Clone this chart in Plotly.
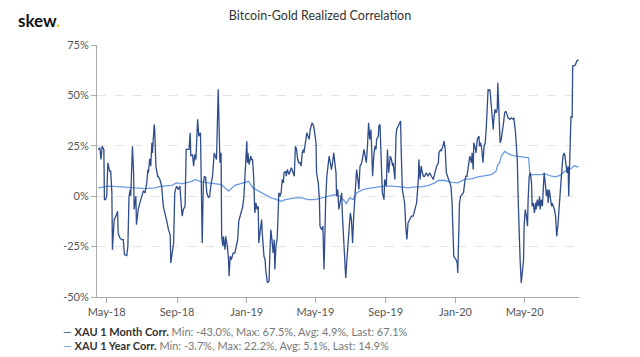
import pandas as pd
import plotly.graph_objects as go

START = "2018-05-01"

# XAU 1 Month Corr. (days offset from 2018-05-01, value in %)
month_days = [-15, -12, -10, -8, -5, -4, -2, 0, 2, 5, 7, 9, 10, 13, 16, 19, 20, 23, 26, 29, 31, 35, 37, 39, 41, 42,
              45, 47, 48, 51, 52, 55, 58, 61, 64, 67, 70, 72, 73, 75, 76, 77, 79, 80, 83, 84, 86, 89, 90, 93, 96, 99,
              102, 105, 108, 111, 112, 115, 117, 119, 122, 125, 128, 130, 132, 134, 137, 139, 141, 144, 146, 147, 150,
              152, 154, 156, 159, 161, 164, 165, 166, 167, 169, 171, 173, 175, 178, 180, 182, 185, 188, 190, 192,
              195, 197, 198, 200, 201, 203, 204, 207, 208, 211, 213, 214, 216, 218, 221, 224, 226, 229, 231, 233, 236,
              238, 240, 243, 245, 246, 247, 249, 252, 253, 255, 257, 258, 259, 261, 263, 265, 266, 268, 271, 272, 275,
              277, 278, 281, 284, 285, 287, 289, 291, 293, 294, 296, 298, 299, 301, 303, 305, 307, 309, 310, 313, 314,
              316, 319, 321, 323, 326, 328, 330, 332, 334, 336, 338, 340, 342, 344, 345, 348, 350, 352, 354, 356, 359,
              362, 364, 366, 367, 370, 372, 373, 376, 378, 380, 381, 383, 385, 387, 389, 391, 393, 395, 397,
              401, 402, 404, 406, 408, 411, 412, 414, 416, 418, 420, 422, 424, 426, 428, 430, 432, 434, 436, 437, 440,
              441, 443, 446, 448, 450, 453, 454, 456, 458, 460, 462, 463, 465, 467, 469, 471, 472, 475, 476, 478, 479,
              480, 482, 485, 486, 489, 491, 493, 496, 498, 500, 501, 504, 506, 507, 510, 511, 514, 515, 517, 519, 521,
              523, 525, 527, 530, 533, 536, 539, 542, 545, 546, 548, 550, 552, 554, 556, 559, 562, 565, 568, 571, 574,
              577, 580, 581, 584, 585, 588, 590, 592, 594, 596, 598, 600, 602, 604, 606, 607,
              611, 613, 614, 616, 617, 619, 621, 624, 626, 628, 630, 632, 634, 635, 638, 639, 641, 642, 645, 646, 648,
              651, 652, 654, 656, 658, 660, 662, 664, 666, 667, 669, 670, 671, 674, 676, 677, 679, 681, 683, 684, 686,
              688, 690, 692, 694, 696, 698, 700, 702, 705, 708, 711, 712, 715, 716, 718, 720, 722, 723, 725, 727, 729,
              730, 732, 734, 736, 737, 739, 741, 743, 744, 746, 748, 750, 751, 753, 755, 757, 758, 760, 762, 764, 765,
              767, 769, 771, 772, 774, 776, 778, 779, 781, 783, 785, 787, 789, 791, 793, 794, 796, 798, 800, 801, 803,
              805, 807, 808, 810, 812, 814, 815, 817, 818, 820, 822, 824, 825]
month_vals = [23.2, 24.0, 18.2, 24.8, 23.2, -1.7, -1.7, 0.0, 16.6, 12.4, 12.4, 1.7, -26.5, -11.6, -9.9, -7.5, -18.2,
              -20.7, -21.5, -21.5, -29.0, -29.5, -24.8, 0.0, 3.3, 0.0,
              24.8, 11.6, -6.6, 0.0, -14.1, -6.6, -3.3, 0.0, 2.5, 1.7, 6.6, 13.2, 11.6, 18.2, 18.2, 14.9, 26.5, 21.5,
              35.6, 33.1, 14.9, 9.9, 9.9, 8.3, 5.0, -5.0,
              -8.3, -12.4, -16.6, -19.0, -33.1, -25.7, -23.2, 1.7, 5.0, 3.3, 5.0, -3.3, -9.9, -6.6, -5.0, 23.2, 23.2,
              23.2, 31.5, 19.9, 20.7,
              14.9, 20.7, 18.2, 38.1, 29.8, 31.5, 13.2, 6.6, -23.2, 6.6, 9.9, 9.1, 1.7, -0.8, 0.0, 5.0, 9.9, 21.5,
              19.9, 18.2,
              53.0, 19.9, 16.6, 21.5, -19.9, -24.8, -19.9, -26.5, -19.9, -24.8, -31.5, -39.7, -29.8, -31.5, -28.2,
              -28.2, -24.8, -21.5, -12.4, -9.9, -6.6,
              -5.0, 0.0, 14.9, 27.3, 16.6, 21.5, 15.7, 19.9, 18.2, 18.2, 9.9, -1.7, -8.3, -3.3, -6.6, -5.0, -23.2,
              -18.2, -11.6, -18.2, -29.8,
              -31.5, -36.4, -43.0, -42.2, -31.5, -16.6, -21.5, -28.2, -21.5, -36.4, -24.8, -21.5, -14.9, 1.7, 0.0, 1.7,
              8.3, 6.6, 11.6, 12.4, 9.9,
              13.2, 10.8, 13.2, 14.1, 11.6, 9.9, 24.8, 23.2, 18.2, 16.6, 16.6, 14.9, 21.5, 23.2, 21.5, 28.2, 31.5,
              29.8, 28.2, 33.1, 36.4,
              34.8, 29.8, 26.5, 11.6, 6.6, -1.7, -14.9, -16.6, -14.9, -36.4, -16.6, -1.7, 9.9, 14.9, 19.9, 16.6, 13.2,
              16.6, 21.5,
              11.6, 0.0, 3.3, -6.6, -3.3, 1.7, -8.3, -21.5, -28.2, -40.6, -31.5, -24.0, -16.6, -8.3, -11.6, -23.2, -9.9,
              1.7, 11.6, 13.2, 6.6,
              3.3, 14.9, 16.6, 19.9, 23.2, 18.2, 16.6, 24.8, 36.4, 28.2, 33.1, 26.5, 9.9, 19.9, 24.8, 23.2, 28.2,
              29.8, 34.8, 35.6, 26.5,
              8.3, 1.7, -1.7, 8.3, 5.0, 23.2, 11.6, 19.9, 18.2, 14.9, 16.6, 8.3, 29.8, 33.1, 34.8, 35.6, 37.3, 23.2,
              3.3, 0.0, -3.3,
              -14.9, -21.5, -13.2, -11.6, -9.9, -9.9, -6.6, -3.3, 8.3, 18.2, 8.3, 14.9, 11.6, 9.9, 9.9, 11.6, 9.9,
              11.6, 9.9, 8.3, 11.6,
              14.9, 16.6, 21.5, 23.2, 22.4, 24.8, 27.3, 23.2, 11.6, 9.9, 8.3, 6.6, 5.0, -3.3, -18.2, -29.8,
              -31.5, -33.1, -38.1, -18.2, -3.3, 0.0, 0.8, 1.7, 6.6, 9.9, 9.9, 13.2, 18.2, 19.9, 16.6, 21.5, 13.2, 26.5,
              23.2, 21.5, 28.2,
              29.8, 24.8, 26.5, 23.2, 16.6, 24.8, 26.5, 34.8, 44.7, 53.0, 52.2, 53.0, 50.5, 39.7, 33.1, 38.1, 43.1,
              41.4, 43.1, 56.3, 34.8,
              26.5, 28.2, 31.5, 36.4, 41.4, 42.2, 40.6, 38.9, 38.1, 38.9, 38.1, 38.9, 31.5, 28.2, 18.2, -5.0, -29.8,
              -31.5, -43.0, -34.8, -31.5,
              -14.9, -6.6, -9.9, -14.9, -1.7, 9.9, 11.6, 6.6, -5.0, -3.3, -8.3, -3.3, -6.6, -1.7, -5.0, 0.0, -6.6, -1.7,
              -5.0, 8.3, 11.6,
              6.6, 0.0, 3.3, -3.3, 3.3, -1.7, -5.0, -3.3, -5.0, -6.6, -9.9, -19.9, -14.9, -5.0, 0.0, 6.6, 13.2, 19.9,
              21.5, 20.7, 14.9,
              11.6, 14.9, 0.0, 19.9, 39.7, 38.9, 64.6, 64.6, 64.6, 65.4, 67.1, 67.5, 67.1]

# XAU 1 Year Corr.
year_days = [-15, 3, 26, 50, 67, 84, 96, 114, 122, 131, 149, 154, 166, 178, 189, 201, 207, 213, 224, 242, 248, 256,
             265, 277, 288, 300, 306, 312, 329, 341, 352, 364, 376, 387, 399, 408, 414, 419, 425, 431, 437, 443, 448,
             454, 463, 475, 486, 498, 515, 527, 539, 550, 562, 574, 580, 591, 603, 614, 626, 638, 649, 661, 673, 681,
             684, 687, 690, 696, 702, 711, 719, 728, 738, 740, 748, 760, 766, 778, 786, 795, 801, 807, 813, 818, 822,
             825]
year_vals = [4.1, 5.0, 4.6, 4.1, 3.8, 4.1, 5.0, 5.4, 6.6, 6.1, 7.4, 8.3, 7.1, 6.6, 6.1, 5.8, 4.1, 2.5, 5.4, 7.1, 7.4,
             4.1, 2.5, 0.8, -0.8, -1.7, -2.5, -1.7, -0.8, -0.8, -1.7, -1.7, -0.8, 0.0, 0.8, 0.0, -1.7, -3.7, -0.8,
             -1.7, 1.7, 2.5, 3.3, 3.6, 4.1, 4.6, 5.0, 5.0, 4.6, 4.1, 4.6, 4.6, 5.3, 6.6, 7.8, 7.9, 6.9, 6.6, 8.3, 8.6,
             9.6, 10.2, 10.7, 12.4, 15.7, 16.5, 19.8, 22.2, 21.1, 20.1, 19.8, 19.5, 19.0, 10.7, 10.7, 10.7, 11.2, 9.9,
             9.6, 10.7, 12.4, 12.9, 14.0, 15.2, 14.5, 14.9]

y_ticks = [-50, -25, 0, 25, 50, 75]
y_tick_labels = ["-50%", "-25%", "0%", "25%", "50%", "75%"]
title_text = "Bitcoin-Gold Realized Correlation"
legend_rows = [
    ("XAU 1 Month Corr.", "Min: -43.0%, Max: 67.5%, Avg: 4.9%, Last: 67.1%"),
    ("XAU 1 Year Corr.", "Min: -3.7%, Max: 22.2%, Avg: 5.1%, Last: 14.9%"),
]

DARK = "#2f4c8c"
LIGHT = "#6b9be0"

start = pd.Timestamp(START)
mx = start + pd.to_timedelta(month_days, unit="D")
yx = start + pd.to_timedelta(year_days, unit="D")

fig = go.Figure()
fig.add_trace(go.Scatter(x=yx, y=year_vals, mode="lines", name=legend_rows[1][0],
                         line=dict(color=LIGHT, width=1.3), showlegend=False))
fig.add_trace(go.Scatter(x=mx, y=month_vals, mode="lines", name=legend_rows[0][0],
                         line=dict(color=DARK, width=1.3), showlegend=False))

# the page places the figure 8px from the top-left corner
OFF = 8
W, H = 640 - OFF, 357 - OFF - 1
ML, MT = 97 - OFF, 44.5 - OFF
MR = W - (579 - OFF)
MB = H - (297.5 - OFF)
PW, PH = W - ML - MR, H - MT - MB


def px(xp):
    return (xp - OFF - ML) / PW


def py(yp):
    return (H - MB - (yp - OFF)) / PH


annotations = [
    dict(text="<b>skew</b><b><span style='color:#f0c419'>.</span></b>", x=px(17), y=py(OFF), xref="paper",
         yref="paper", xanchor="left", yanchor="top", showarrow=False, borderpad=0,
         font=dict(family="Lato", size=17, color="#111")),
]
for i, ((name, stats), col) in enumerate(zip(legend_rows, [DARK, LIGHT])):
    annotations.append(dict(
        text=f"<span style='color:{col}'>—</span> <b>{name}</b> <span style='color:#777'>{stats}</span>",
        x=px(61), y=py(332 + i * 14), xref="paper", yref="paper", xanchor="left", yanchor="middle",
        showarrow=False, font=dict(family="Lato", size=11, color="#333")))

fig.update_layout(
    width=W, height=H,
    margin=dict(l=ML, r=MR, t=MT, b=MB),
    paper_bgcolor="white", plot_bgcolor="white",
    title=dict(text=title_text, x=(320 - OFF) / W, xref="container", y=1 - (16 - OFF) / H, yref="container",
               xanchor="center", yanchor="middle", font=dict(family="Lato", size=12.5, color="#333")),
    font=dict(family="Lato", size=11, color="#555"),
    annotations=annotations,
    xaxis=dict(type="date", range=[start - pd.Timedelta(days=17), start + pd.Timedelta(days=826)],
               tick0=START, dtick="M4", tickformat="%b-%y", showgrid=False,
               showline=True, linecolor="#aaa", linewidth=1, ticks="outside", ticklen=5, tickcolor="#aaa",
               tickfont=dict(size=11, color="#555"), zeroline=False),
    yaxis=dict(range=[-50, 75], tickmode="array", tickvals=y_ticks, ticktext=y_tick_labels,
               showgrid=True, gridcolor="#e3e3e3",
               griddash="dash", gridwidth=1, showline=True, linecolor="#aaa", linewidth=1, ticks="outside",
               ticklen=5, tickcolor="#aaa", zeroline=False, tickfont=dict(size=11, color="#555")),
)

fig.write_html("out.html")
